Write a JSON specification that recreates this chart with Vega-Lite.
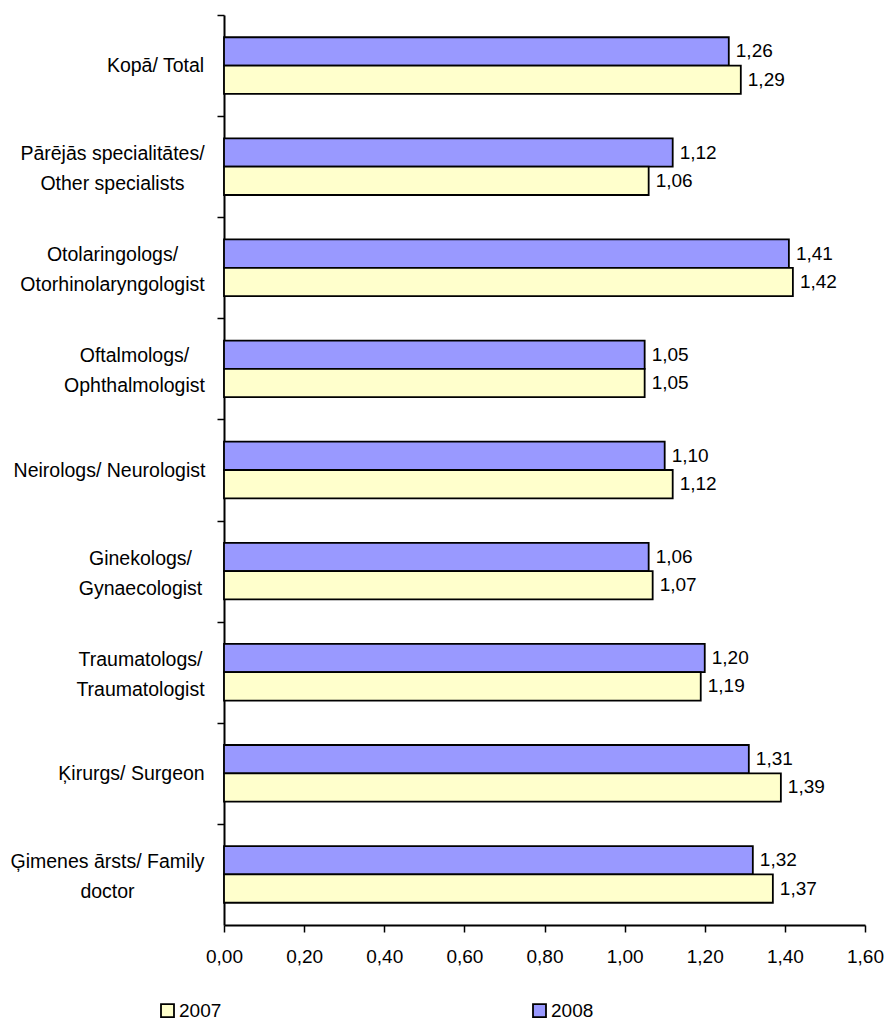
{
  "$schema": "https://vega.github.io/schema/vega-lite/v6.json",
  "width": 641,
  "height": 910,
  "autosize": "none",
  "padding": {"left": 224, "top": 15, "right": 22, "bottom": 108},
  "background": "white",
  "config": {
    "locale": {"number": {"decimal": ",", "thousands": " ", "grouping": [3], "currency": ["", ""]}},
    "view": {"stroke": null},
    "font": "Liberation Sans",
    "axis": {"grid": false, "labelFont": "Liberation Sans", "labelFontSize": 19, "labelColor": "black", "domainColor": "black", "tickColor": "black", "domainWidth": 2, "tickWidth": 1.5, "title": null, "labelLimit": 0},
    "legend": {"labelFontSize": 19, "labelFont": "Liberation Sans"}
  },
  "data": {
    "values": [
      {"cat": "Kopā/ Total", "year": "2008", "value": 1.26},
      {"cat": "Kopā/ Total", "year": "2007", "value": 1.29},
      {"cat": "Pārējās specialitātes/|Other specialists", "year": "2008", "value": 1.12},
      {"cat": "Pārējās specialitātes/|Other specialists", "year": "2007", "value": 1.06},
      {"cat": "Otolaringologs/|Otorhinolaryngologist", "year": "2008", "value": 1.41},
      {"cat": "Otolaringologs/|Otorhinolaryngologist", "year": "2007", "value": 1.42},
      {"cat": "Oftalmologs/|Ophthalmologist", "year": "2008", "value": 1.05},
      {"cat": "Oftalmologs/|Ophthalmologist", "year": "2007", "value": 1.05},
      {"cat": "Neirologs/ Neurologist", "year": "2008", "value": 1.10},
      {"cat": "Neirologs/ Neurologist", "year": "2007", "value": 1.12},
      {"cat": "Ginekologs/|Gynaecologist", "year": "2008", "value": 1.06},
      {"cat": "Ginekologs/|Gynaecologist", "year": "2007", "value": 1.07},
      {"cat": "Traumatologs/|Traumatologist", "year": "2008", "value": 1.20},
      {"cat": "Traumatologs/|Traumatologist", "year": "2007", "value": 1.19},
      {"cat": "Ķirurgs/ Surgeon", "year": "2008", "value": 1.31},
      {"cat": "Ķirurgs/ Surgeon", "year": "2007", "value": 1.39},
      {"cat": "Ģimenes ārsts/ Family|doctor", "year": "2008", "value": 1.32},
      {"cat": "Ģimenes ārsts/ Family|doctor", "year": "2007", "value": 1.37}
    ]
  },
  "encoding": {
    "y": {
      "field": "cat", "type": "nominal", "sort": null,
      "scale": {"paddingInner": 0.44, "paddingOuter": 0.22},
      "axis": {
        "tickSize": 7, "tickOffset": -50.56,
        "labelOffset": {
          "condition": {"test": "indexof(datum.value, '|') >= 0", "value": 37.5},
          "value": 50.56
        },
        "labelExpr": "split(datum.label, '|')",
        "labelFontSize": 19.5,
        "labelAlign": "center",
        "labelPadding": {
          "condition": [
            {"test": "datum.value === 'Kopā/ Total'", "value": 62},
            {"test": "datum.value === 'Pārējās specialitātes/|Other specialists'", "value": 105},
            {"test": "datum.value === 'Otolaringologs/|Otorhinolaryngologist'", "value": 105},
            {"test": "datum.value === 'Oftalmologs/|Ophthalmologist'", "value": 83},
            {"test": "datum.value === 'Neirologs/ Neurologist'", "value": 108},
            {"test": "datum.value === 'Ginekologs/|Gynaecologist'", "value": 77},
            {"test": "datum.value === 'Traumatologs/|Traumatologist'", "value": 77},
            {"test": "datum.value === 'Ķirurgs/ Surgeon'", "value": 86}
          ],
          "value": 110
        },
        "labelLineHeight": 30
      }
    },
    "yOffset": {"field": "year", "sort": ["2008", "2007"], "scale": {"paddingInner": 0}},
    "x": {
      "field": "value", "type": "quantitative",
      "scale": {"domain": [0, 1.6], "nice": false},
      "axis": {"values": [0, 0.2, 0.4, 0.6, 0.8, 1.0, 1.2, 1.4, 1.6], "format": ".2f", "tickSize": 7, "labelPadding": 15, "labelFlush": false}
    }
  },
  "layer": [
    {
      "mark": {"type": "bar", "stroke": "black", "strokeWidth": 1.8},
      "encoding": {
        "color": {
          "field": "year", "type": "nominal",
          "scale": {"domain": ["2007", "2008"], "range": ["#FFFFCC", "#9999FF"]},
          "legend": {
            "title": null, "orient": "none", "direction": "horizontal",
            "legendX": -66, "legendY": 986,
            "symbolType": "square", "symbolSize": 169, "symbolStrokeColor": "black", "symbolStrokeWidth": 1.8,
            "labelFont": "Liberation Sans", "labelFontSize": 19, "labelColor": "black", "labelOffset": 2, "columnPadding": 307
          }
        }
      }
    },
    {
      "mark": {"type": "text", "align": "left", "baseline": "middle", "dx": 7, "fontSize": 19, "color": "black", "font": "Liberation Sans"},
      "encoding": {"text": {"field": "value", "type": "quantitative", "format": ".2f"}}
    }
  ]
}
